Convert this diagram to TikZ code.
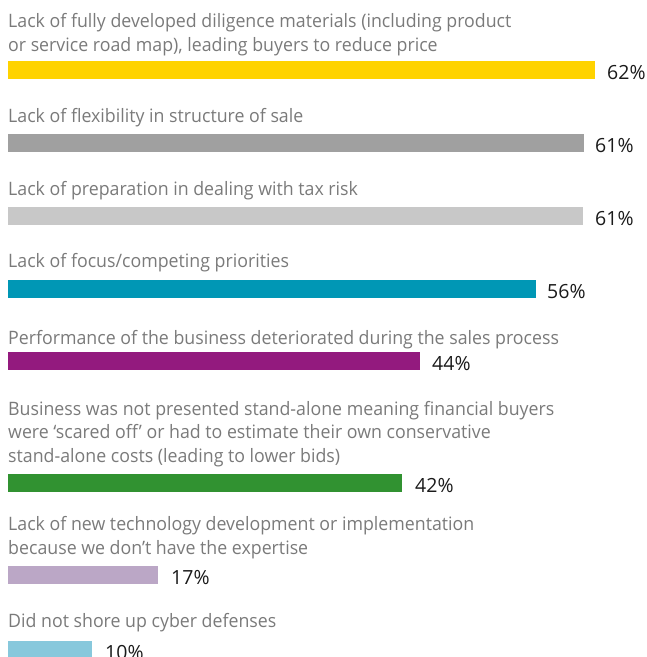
\documentclass[tikz,border=0pt]{standalone}
\usepackage{fontspec}
\setmainfont[FakeStretch=0.96]{Open Sans}
\newfontfamily\pctfont{Open Sans}
\definecolor{cyellow}{HTML}{FFD300}
\definecolor{cgray}{HTML}{A0A0A0}
\definecolor{clgray}{HTML}{C8C8C8}
\definecolor{cteal}{HTML}{0097B5}
\definecolor{cpurple}{HTML}{931A7E}
\definecolor{cgreen}{HTML}{319231}
\definecolor{clav}{HTML}{BBA7C6}
\definecolor{clblue}{HTML}{87C8DC}
\definecolor{labgray}{HTML}{7A7A7A}
\definecolor{pctblack}{HTML}{1A1A1A}
\tikzset{
  lab/.style={anchor=base west, inner sep=0pt, align=left, text=labgray,
    font=\fontsize{18.5}{23.3}\selectfont},
  pct/.style={anchor=base west, inner sep=0pt, text=pctblack,
    font=\pctfont\fontsize{19.5}{24}\selectfont},
}
\begin{document}
\begin{tikzpicture}[x=1pt,y=-1pt]
\useasboundingbox (0,0) rectangle (647,657);
% row 1 (base anchor = last line)
\node[lab] (l1) at (8,51) {Lack of fully developed diligence materials (including product\\or service road map), leading buyers to reduce price};
\fill[cyellow] (8,61) rectangle (595,79);
\node[pct] (p1) at (607,79) {62\%};
% row 2
\node[lab] (l2) at (8,122) {Lack of flexibility in structure of sale};
\fill[cgray] (8,134) rectangle (584,152);
\node[pct] (p2) at (595,152) {61\%};
% row 3
\node[lab] (l3) at (8,195) {Lack of preparation in dealing with tax risk};
\fill[clgray] (8,207) rectangle (583,225);
\node[pct] (p3) at (595,225) {61\%};
% row 4
\node[lab] (l4) at (8,267) {Lack of focus/competing priorities};
\fill[cteal] (8,280) rectangle (536,298);
\node[pct] (p4) at (547,298) {56\%};
% row 5
\node[lab] (l5) at (8,344) {Performance of the business deteriorated during the sales process};
\fill[cpurple] (8,352) rectangle (420,370);
\node[pct] (p5) at (432,370) {44\%};
% row 6
\node[lab] (l6) at (8,462) {Business was not presented stand-alone meaning financial buyers\\were ‘scared off’ or had to estimate their own conservative\\stand-alone costs (leading to lower bids)};
\fill[cgreen] (8,474) rectangle (402,492);
\node[pct] (p6) at (415,492) {42\%};
% row 7
\node[lab] (l7) at (8,554) {Lack of new technology development or implementation\\because we don’t have the expertise};
\fill[clav] (8,566) rectangle (158,584);
\node[pct] (p7) at (171,584) {17\%};
% row 8
\node[lab] (l8) at (8,627) {Did not shore up cyber defenses};
\fill[clblue] (8,641) rectangle (92,659);
\node[pct] (p8) at (105,659) {10\%};
\end{tikzpicture}
\end{document}
